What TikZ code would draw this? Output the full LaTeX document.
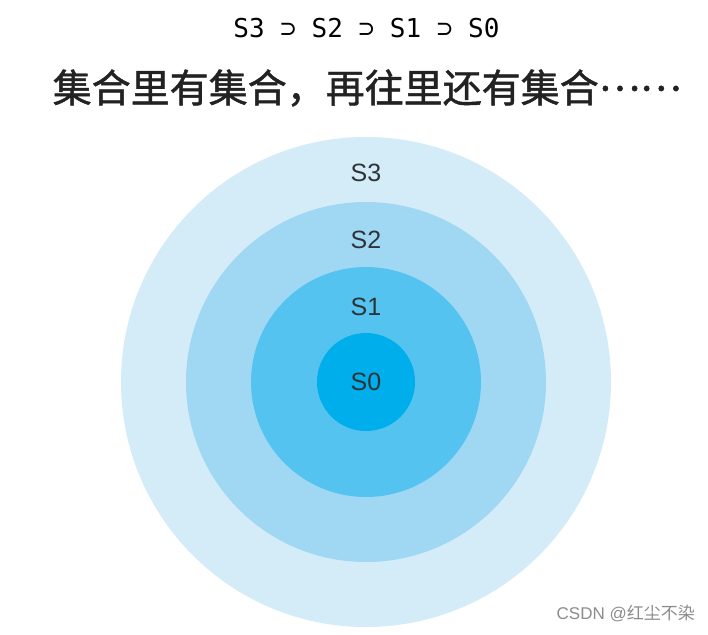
\documentclass[tikz,border=0pt]{standalone}
\usepackage{fontspec}
\setmainfont{Liberation Sans}
\newfontfamily\cjk{Noto Sans CJK SC}
\newfontfamily\cjkbold[FakeBold=1.2]{Noto Sans CJK SC}
\newfontfamily\monof{DejaVu Sans Mono}
\definecolor{cS3}{HTML}{D4ECF8}
\definecolor{cS2}{HTML}{A0D8F3}
\definecolor{cS1}{HTML}{54C3EF}
\definecolor{cS0}{HTML}{00AEEB}
\definecolor{lbl}{HTML}{2E3338}
\definecolor{ttl}{HTML}{222222}
\definecolor{wm}{HTML}{8C8C8C}
\begin{document}
\begin{tikzpicture}[x=1pt,y=-1pt,
  ring/.style={circle,draw=none,inner sep=0pt,minimum size=#1},
  setlabel/.style={inner sep=0pt,text=lbl,font=\fontsize{25}{28}\selectfont}]
\useasboundingbox[fill=white] (0,0) rectangle (708,634);
\node[ring=490pt,fill=cS3] (s3) at (366,382) {};
\node[ring=360pt,fill=cS2] (s2) at (366,382) {};
\node[ring=230pt,fill=cS1] (s1) at (366,382) {};
\node[ring=98pt,fill=cS0] (s0) at (366,382) {};
\node[setlabel] (l3) at (366,173) {S3};
\node[setlabel] (l2) at (366,240) {S2};
\node[setlabel] (l1) at (366,307) {S1};
\node[setlabel] (l0) at (366,382) {S0};
\node[inner sep=0pt,font=\monof\fontsize{26}{28}\selectfont] (rel) at (366.5,28) {S3 ⊃ S2 ⊃ S1 ⊃ S0};
\node[inner sep=0pt,text=ttl,font=\cjkbold\fontsize{39}{42}\selectfont] (title) at (367,88) {集合里有集合，再往里还有集合\raisebox{0.3em}{……}};
\node[inner sep=0pt,text=wm,font=\fontsize{17}{20}\selectfont,anchor=east] (wmk) at (695,614) {CSDN @{\cjk 红尘不染}};
\end{tikzpicture}
\end{document}
